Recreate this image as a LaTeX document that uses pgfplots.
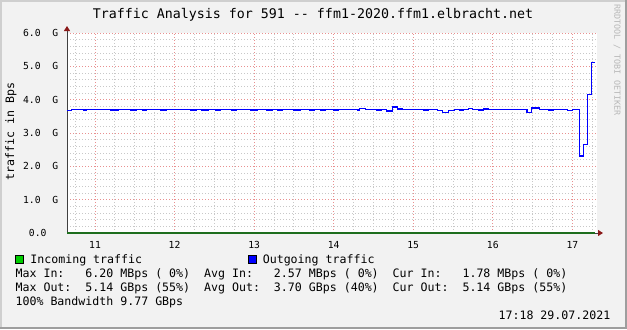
\documentclass[border=0pt]{standalone}
\usepackage{fontspec}
\setmainfont{DejaVu Sans Mono}
\usepackage{pgfplots}
\pgfplotsset{compat=1.18}
\usetikzlibrary{arrows.meta}
\pgfdeclarelayer{bg}
\pgfsetlayers{bg,main}
\definecolor{bgc}{HTML}{F2F2F2}
\definecolor{shadeA}{HTML}{CFCFCF}
\definecolor{shadeB}{HTML}{9E9E9E}
\definecolor{gridc}{HTML}{C8C8C8}
\definecolor{mgridc}{HTML}{E89090}
\definecolor{axisgray}{HTML}{404040}
\definecolor{arrowred}{HTML}{8B1A1A}
\definecolor{inline}{HTML}{1E6E1E}
\definecolor{ingreen}{HTML}{00CC00}
\definecolor{outblue}{HTML}{0000FF}
\definecolor{wmark}{HTML}{B8B8B8}

\pgfplotstableread{
t v
10.648 3.68
10.700 3.71
10.790 3.71
10.850 3.69
10.890 3.71
10.990 3.70
11.070 3.71
11.200 3.69
11.300 3.71
11.450 3.69
11.520 3.71
11.600 3.69
11.650 3.71
11.780 3.71
11.830 3.69
11.900 3.71
12.000 3.70
12.080 3.71
12.200 3.69
12.280 3.71
12.340 3.69
12.420 3.71
12.520 3.69
12.580 3.71
12.650 3.70
12.720 3.69
12.780 3.71
12.900 3.71
12.960 3.69
13.040 3.71
13.160 3.69
13.230 3.71
13.300 3.69
13.360 3.71
13.440 3.71
13.500 3.69
13.580 3.71
13.700 3.69
13.760 3.71
13.840 3.69
13.900 3.71
14.000 3.69
14.060 3.71
14.120 3.70
14.200 3.71
14.300 3.69
14.330 3.73
14.400 3.71
14.460 3.71
14.540 3.69
14.600 3.71
14.660 3.66
14.740 3.78
14.800 3.72
14.860 3.70
14.960 3.70
15.060 3.71
15.130 3.69
15.190 3.71
15.300 3.68
15.370 3.62
15.440 3.68
15.520 3.70
15.580 3.69
15.630 3.71
15.690 3.74
15.740 3.70
15.820 3.69
15.880 3.72
15.940 3.70
16.000 3.71
16.080 3.71
16.200 3.71
16.300 3.71
16.430 3.62
16.490 3.75
16.590 3.70
16.650 3.71
16.700 3.69
16.760 3.71
16.940 3.68
17.000 3.71
17.088 2.31
17.138 2.66
17.189 4.16
17.239 5.12
17.289 5.12
}\outdata

\pgfplotstableread{
t v
10.648 0.003
12.000 0.002
14.000 0.003
16.000 0.002
17.289 0.002
}\indata

\begin{document}
\frenchspacing
\begin{tikzpicture}[x=1bp,y=1bp]
\begin{axis}[
  name=ax,
  scale only axis, width=530bp, height=200bp,
  xmin=10.648, xmax=17.310, ymin=0, ymax=6,
  axis x line=bottom, axis y line=left,
  x axis line style={draw=axisgray, line width=1bp,
     -{Triangle[length=5bp,width=6bp,color=arrowred]}, shorten >=-6bp},
  y axis line style={draw=axisgray, line width=1bp,
     -{Triangle[length=5bp,width=6bp,color=arrowred]}, shorten >=-7bp},
  axis background/.style={fill=white},
  xtick={11,12,13,14,15,16,17},
  xticklabels={11,12,13,14,15,16,17},
  minor xtick={10.75,11.25,11.5,11.75,12.25,12.5,12.75,13.25,13.5,13.75,14.25,14.5,14.75,15.25,15.5,15.75,16.25,16.5,16.75,17.25},
  ytick={0,1,2,3,4,5,6},
  yticklabels={0.0\hphantom{GG},1.0\ \ G,2.0\ \ G,3.0\ \ G,4.0\ \ G,5.0\ \ G,6.0\ \ G},
  minor ytick={0.2,0.4,0.6,0.8,1.2,1.4,1.6,1.8,2.2,2.4,2.6,2.8,3.2,3.4,3.6,3.8,4.2,4.4,4.6,4.8,5.2,5.4,5.6,5.8},
  grid=both,
  major grid style={draw=mgridc, dash pattern=on 1bp off 2bp, line width=1bp},
  minor grid style={draw=gridc, dash pattern=on 1bp off 2bp, line width=1bp},
  tick style={draw=none},
  tick label style={font=\fontsize{9.7bp}{11bp}\selectfont},
  xticklabel style={anchor=north, inner sep=0pt, yshift=-6bp},
  yticklabel style={anchor=east, inner sep=0pt, xshift=-6.5bp},
  ylabel={traffic in Bps},
  ylabel style={at={(axis description cs:-0.1057,0.5065)}, anchor=center, inner sep=0pt, font=\fontsize{11.6bp}{13bp}\selectfont},
]
\coordinate (O) at (rel axis cs:0,0);
\addplot[const plot, draw=inline, line width=1.2bp] table[x=t,y=v] {\indata};
\addplot[const plot, draw=outblue, line width=1.1bp] table[x=t,y=v] {\outdata};
\end{axis}

\begin{scope}[shift={(O)}, xshift=-67bp, yshift=-96bp]
\begin{pgfonlayer}{bg}
\fill[bgc] (0,0) rectangle (627,329);
\draw[shadeA, line width=2bp] (1,0) -- (1,328) -- (627,328);
\draw[shadeB, line width=2bp] (0,1) -- (626,1) -- (626,329);
\end{pgfonlayer}

\node[anchor=base, inner sep=0pt] at (313,310.3)
  {\fontsize{13.3bp}{15bp}\selectfont Traffic Analysis for 591 -{}- ffm1-2020.ffm1.elbracht.net};

\node[rotate=-90, anchor=west, inner sep=0pt, text=wmark] at (617,325)
  {\fontsize{8.4bp}{10bp}\selectfont RRDTOOL / TOBI OETIKER};

\begin{scope}[every node/.style={inner sep=0pt, anchor=base west, font=\fontsize{11.6bp}{14bp}\selectfont}]
\filldraw[fill=ingreen, draw=black, line width=0.8bp] (15,66) rectangle (23,74);
\node at (30.2,65.8) {Incoming traffic};
\filldraw[fill=outblue, draw=black, line width=0.8bp] (248,66) rectangle (256,74);
\node at (262.6,65.8) {Outgoing traffic};
\node at (15.4,51.8) {Max In:\ \ \ 6.20 MBps (\ 0\%)\ \ Avg In:\ \ \ 2.57 MBps (\ 0\%)\ \ Cur In:\ \ \ 1.78 MBps (\ 0\%)};
\node at (15.4,37.8) {Max Out:\ \ 5.14 GBps (55\%)\ \ Avg Out:\ \ 3.70 GBps (40\%)\ \ Cur Out:\ \ 5.14 GBps (55\%)};
\node at (15.4,23.8) {100\% Bandwidth 9.77 GBps};
\node[anchor=base east] at (610.5,9.8) {17:18 29.07.2021};
\end{scope}

\pgfresetboundingbox
\useasboundingbox (0,0) rectangle (627,329);
\end{scope}
\end{tikzpicture}
\end{document}
